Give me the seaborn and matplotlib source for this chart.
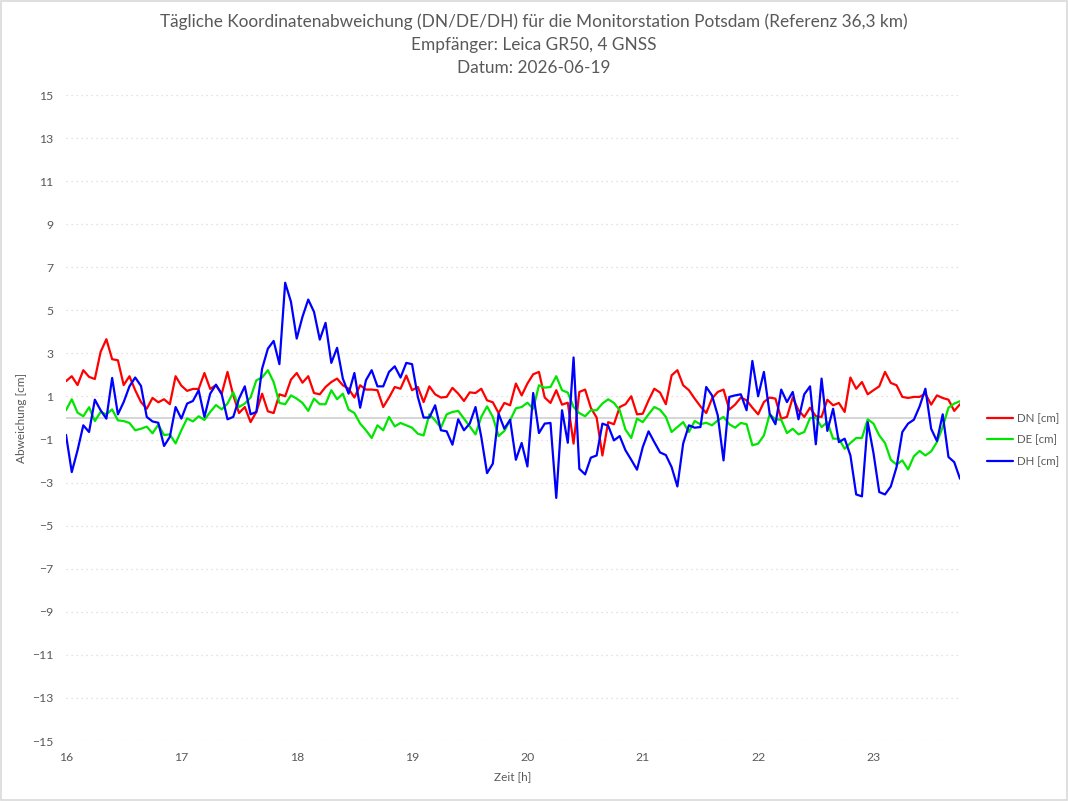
import numpy as np
import pandas as pd
import seaborn as sns
import matplotlib.pyplot as plt
from matplotlib.patches import Rectangle

# Messwerte alle 3 min ab 16:00
t_start = 16.0
t_step = 0.05

dn = [1.71, 1.94, 1.53, 2.22, 1.91, 1.81, 3.07, 3.66, 2.73, 2.68, 1.53, 1.94, 1.29, 0.74, 0.43, 0.93, 0.73, 0.87, 0.64, 1.94,
      1.50, 1.26, 1.35, 1.35, 2.09, 1.35, 1.52,
      1.13, 2.14, 1.05, 0.23, 0.51, -0.19, 0.28, 1.13, 0.31, 0.23, 1.10, 1.01, 1.78, 2.09, 1.64, 1.94, 1.16, 1.10, 1.44,
      1.67, 1.83, 1.52, 1.36, 0.95, 1.52, 1.32,
      1.32, 1.29, 0.51, 0.95, 1.44, 1.36, 1.97, 1.29, 1.44, 0.74, 1.47, 1.10, 0.95, 0.98, 1.40, 1.13, 0.79, 1.19, 1.16,
      1.36, 0.82, 0.73, 0.23, 0.70, 0.59, 1.60,
      1.05, 1.60, 2.03, 2.14, 0.95, 0.70, 1.29, 0.62, 0.71, -1.19, 1.21, 1.32, 0.47, 0.02, -1.74, -0.19, -0.29, 0.51, 0.64,
      1.01, 0.17, 0.20, 0.82, 1.36, 1.18, 0.64,
      1.98, 2.22, 1.52, 1.29, 0.90, 0.54, 0.23, 0.90, 1.21, 1.32, 0.39, 0.62, 0.95, 0.82, 0.48, 0.17, 0.74, 0.95, 0.90,
      -0.03, 0.05, 0.95, 0.36, 0.05, 0.48, 0.08,
      0.05, 0.85, 0.59, 0.70, 0.28, 1.88, 1.36, 1.67, 1.10, 1.29, 1.47, 2.14, 1.63, 1.52, 0.98, 0.93, 0.98, 0.98, 1.13,
      0.62, 1.05, 0.93, 0.85, 0.33, 0.64]

de = [0.36, 0.87, 0.25, 0.08, 0.50, -0.14, 0.28, 0.17, 0.40, -0.11, -0.14, -0.23, -0.57, -0.50, -0.40, -0.71, -0.31,
      -0.79, -0.76, -1.18, -0.57, -0.02, -0.16, 0.08, -0.09, 0.28, 0.60,
      0.40, 0.67, 1.19, 0.51, 0.67, 0.95, 1.75, 1.88, 2.22, 1.67, 0.70, 0.64, 1.05, 0.90, 0.70, 0.33, 0.90, 0.64, 0.64,
      1.29, 0.87, 1.13, 0.39, 0.23, -0.26, -0.57,
      -0.93, -0.34, -0.57, 0.05, -0.39, -0.23, -0.34, -0.45, -0.73, -0.81, 0.17, -0.11, -0.45, 0.17, 0.28, 0.33, -0.03,
      -0.39, -0.76, 0.05, 0.54, 0.05, -0.84, -0.60, -0.11, 0.45,
      0.51, 0.71, 0.43, 1.52, 1.41, 1.44, 1.94, 1.29, 1.18, 0.51, 0.23, 0.08, 0.36, 0.36, 0.67, 0.87, 0.70, 0.36, -0.54,
      -0.93, -0.03, -0.19, 0.17, 0.51, 0.38, 0.05,
      -0.65, -0.42, -0.19, -0.65, -0.14, -0.29, -0.22, -0.34, -0.11, 0.05, -0.29, -0.45, -0.23, -0.29, -1.27, -1.19,
      -0.81, 0.17, -0.06, -0.08, -0.70, -0.50, -0.76, -0.65, 0.00, 0.02,
      -0.42, -0.19, -0.96, -0.96, -1.43, -1.16, -0.93, -0.93, -0.06, -0.26, -0.81, -1.16, -1.94, -2.16, -1.97, -2.39,
      -1.78, -1.53, -1.74, -1.55, -1.12, -0.42, 0.48, 0.67, 0.78]

dh = [-0.78, -2.51, -1.50, -0.34, -0.65, 0.85, 0.36, -0.03, 1.86, 0.17, 0.74, 1.47, 1.88, 1.49, 0.05, -0.16, -0.22,
      -1.30, -0.88, 0.51, -0.03, 0.67, 0.79, 1.29, 0.05, 1.13, 1.55,
      1.10, -0.06, 0.05, 0.90, 1.47, 0.17, 0.28, 2.29, 3.22, 3.58, 2.50, 6.28, 5.40, 3.69, 4.70, 5.50, 4.93, 3.64, 4.42,
      2.56, 3.26, 1.83, 1.13, 2.09, 0.48, 1.75,
      2.22, 1.47, 1.47, 2.14, 2.40, 1.88, 2.56, 2.50, 0.98, 0.02, 0.02, 0.59, -0.57, -0.62, -1.24, -0.06, -0.57, -0.26,
      0.51, -0.88, -2.56, -2.12, 0.20, -0.50, -0.08, -1.94,
      -1.16, -2.25, 1.16, -0.70, -0.26, -0.23, -3.71, 0.36, -1.15, 2.81, -2.36, -2.62, -1.84, -1.74, -0.26, -0.36,
      -1.04, -0.84, -1.50, -1.94, -2.40, -1.35, -0.62, -1.12, -1.60, -1.72,
      -2.28, -3.18, -1.19, -0.34, -0.45, -0.42, 1.44, 1.05, 0.12, -1.97, 0.98, 1.05, 1.10, 0.36, 2.65, 1.01, 2.14, 0.20,
      -0.29, 1.32, 0.74, 1.21, -0.06, 1.10, 1.47, -1.22,
      1.83, -0.60, 0.43, -1.12, -0.96, -1.74, -3.55, -3.64, -0.19, -1.63, -3.44, -3.55, -3.18, -2.28, -0.65, -0.26,
      -0.08, 0.54, 1.36, -0.50, -1.07, 0.17, -1.81, -2.05, -2.82]

labels = ['DN [cm]', 'DE [cm]', 'DH [cm]']
colors = ['#ff0000', '#00e600', '#0000ff']
title_lines = ['Tägliche Koordinatenabweichung (DN/DE/DH) für die Monitorstation Potsdam (Referenz 36,3 km)',
               'Empfänger: Leica GR50, 4 GNSS',
               'Datum: 2026-06-19']
yticks = list(range(-15, 16, 2))
xticks = list(range(16, 24))

zeit = t_start + t_step * np.arange(len(dn))
df = pd.DataFrame({'Zeit': zeit, labels[0]: dn, labels[1]: de, labels[2]: dh})
df = df.melt(id_vars='Zeit', var_name='Serie', value_name='Wert')

sns.set_style('white')
plt.rcParams['font.family'] = ['Lato', 'DejaVu Sans']
grey = '#595959'

fig = plt.figure(figsize=(10.68, 8.01), dpi=100)
ax = fig.add_axes([66 / 1068, 1 - 741 / 801, (960 - 66) / 1068, (741 - 95) / 801])

for y in yticks:
    ax.axhline(y, color='#d9d9d9', lw=0.9, ls=(0, (1, 3)), zorder=0)
ax.axhline(0, color='#d0d0d0', lw=1.2, zorder=1)

sns.lineplot(data=df, x='Zeit', y='Wert', hue='Serie', palette=dict(zip(labels, colors)),
             linewidth=1.6, ax=ax, legend=True)

ax.set_xlim(t_start, zeit[-1])
ax.set_ylim(-15, 15)
ax.set_yticks(yticks)
ax.set_xticks(xticks)
ax.tick_params(axis='both', length=0, labelsize=8.8, labelcolor=grey)
ax.tick_params(axis='y', pad=9)
ax.tick_params(axis='x', pad=8)
for s in ax.spines.values():
    s.set_visible(False)

ax.set_xlabel('Zeit [h]', fontsize=8.5, color=grey, labelpad=6)
ax.set_ylabel('Abweichung [cm]', fontsize=8.5, color=grey, labelpad=4)

for i, line in enumerate(title_lines):
    fig.text(0.5, 1 - (22 + 23 * i) / 801, line, ha='center', va='center',
             fontsize=12.4, color=grey)

leg = ax.legend(loc='center left', bbox_to_anchor=(981 / 1068, 1 - 440 / 801),
                bbox_transform=fig.transFigure, frameon=False, fontsize=8.3,
                handlelength=2.3, handletextpad=0.3, labelspacing=0.9, borderpad=0)
for txt in leg.get_texts():
    txt.set_color(grey)

fig.add_artist(Rectangle((0.001, 0.001), 0.998, 0.998, transform=fig.transFigure,
                         fill=False, edgecolor='#d9d9d9', lw=1.2))

fig.savefig('out.png', dpi=100)
